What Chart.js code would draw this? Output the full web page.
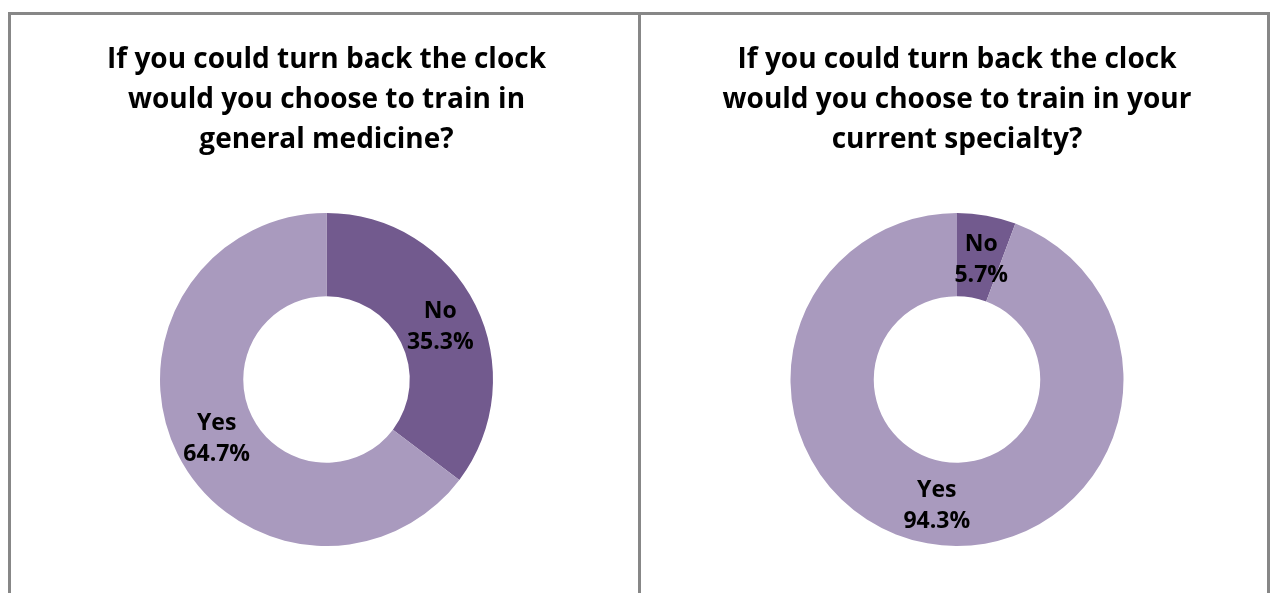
<!DOCTYPE html>
<html>
<head>
<meta charset="utf-8">
<script src="https://cdn.jsdelivr.net/npm/chart.js@4"></script>
<style>
    body { margin: 0; width: 1273px; height: 593px; overflow: hidden; background: #fff; }
    #frame {
        position: absolute; left: 8px; top: 12px; width: 1256px; height: 640px;
        border: 3px solid #878787;
    }
    #divider { position: absolute; left: 627px; top: 0; width: 3px; height: 100%; background: #878787; }
    .panel { position: absolute; top: 0; height: 531px; }
    #p1 { left: 0; width: 627px; }
    #p2 { left: 630px; width: 626px; }
</style>
</head>
<body>
<div id="frame">
    <div id="divider"></div>
    <div class="panel" id="p1"><canvas id="chart1"></canvas></div>
    <div class="panel" id="p2"><canvas id="chart2"></canvas></div>
</div>
<script>
// 資料
const categories = ['No', 'Yes'];
const generalMedicine = [35.3, 64.7];
const currentSpecialty = [5.7, 94.3];

const title1 = ['If you could turn back the clock', 'would you choose to train in', 'general medicine?'];
const title2 = ['If you could turn back the clock', 'would you choose to train in your', 'current specialty?'];

const sliceColors = ['#725A8E', '#A99ABE'];

// 在每塊扇形中間寫上 名稱 + 百分比
const arcLabels = {
    id: 'arcLabels',
    afterDatasetsDraw(chart) {
        const ctx = chart.ctx;
        const meta = chart.getDatasetMeta(0);
        const values = chart.data.datasets[0].data;
        ctx.save();
        ctx.fillStyle = '#000';
        ctx.font = 'bold 23px "Open Sans"';
        ctx.textAlign = 'center';
        ctx.textBaseline = 'middle';
        meta.data.forEach((arc, i) => {
            const p = arc.tooltipPosition();
            ctx.fillText(chart.data.labels[i], p.x + 2, p.y - 12);
            ctx.fillText(values[i].toFixed(1) + '%', p.x + 2, p.y + 19);
        });
        ctx.restore();
    }
};

function drawDonut(id, titleLines, values, padLeft) {
    return new Chart(document.getElementById(id), {
        type: 'doughnut',
        data: {
            labels: categories,
            datasets: [{
                data: values,
                backgroundColor: sliceColors,
                borderWidth: 0
            }]
        },
        options: {
            responsive: true,
            maintainAspectRatio: false,
            animation: false,
            cutout: '50%',
            layout: { padding: { left: padLeft, right: 0, top: 0, bottom: 0 } },
            plugins: {
                legend: { display: false },
                tooltip: { enabled: false },
                title: {
                    display: true,
                    text: titleLines,
                    color: '#000',
                    font: { family: '"Open Sans"', size: 28, weight: 'bold', lineHeight: '40px' },
                    padding: { top: 25, bottom: 53 }
                }
            }
        },
        plugins: [arcLabels]
    });
}

drawDonut('chart1', title1, generalMedicine, 4);
drawDonut('chart2', title2, currentSpecialty, 6);
</script>
</body>
</html>
